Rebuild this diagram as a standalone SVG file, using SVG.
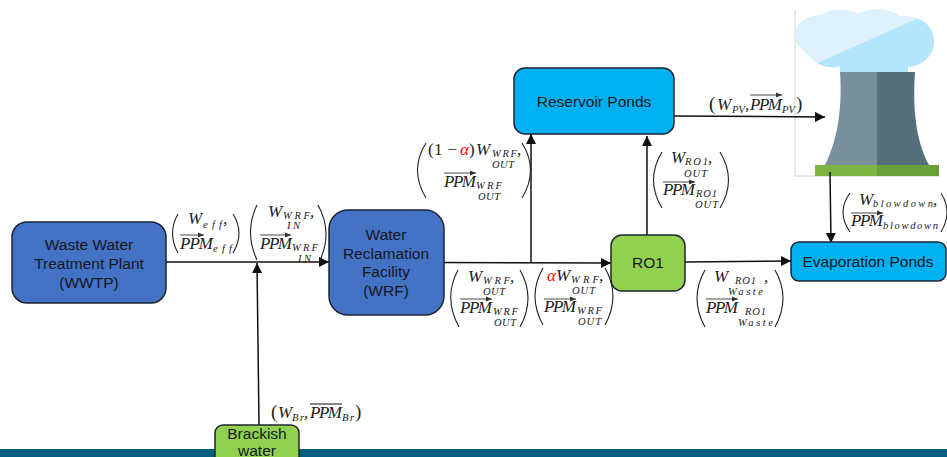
<svg xmlns="http://www.w3.org/2000/svg" width="947" height="457" viewBox="0 0 947 457">
<style>
.n{stroke:#1c2430;stroke-width:1.5}
.b{fill:#4472C4}.c{fill:#00B0F0}.g{fill:#92D050}
.t{font:15.5px "Liberation Sans",Arial,sans-serif;fill:#14181f;text-anchor:middle}
.e{fill:none;stroke:#111;stroke-width:1.5}
.k{fill:none;stroke:#222;stroke-width:1.1}
.v{fill:none;stroke:#333;stroke-width:.9}
.m{font:italic 17px "Liberation Serif",serif;fill:#222}
.s{font:italic 10.5px "Liberation Serif",serif;fill:#222}
.u{font:17px "Liberation Serif",serif;fill:#222}
.p{font-size:19px}
.r{fill:#f00}
</style>
<defs>
<marker id="a" markerUnits="userSpaceOnUse" markerWidth="12" markerHeight="12" refX="10" refY="5" orient="auto"><path d="M0 0L10 5L0 10z" fill="#111"/></marker>
<marker id="o" markerUnits="userSpaceOnUse" markerWidth="7" markerHeight="6" refX="6" refY="3" orient="auto"><path d="M0 .5L6 3L0 5.500z" fill="#333"/></marker>
<clipPath id="cl"><path d="M795 36C795 24 806 15 822 15C830 8 848 8 858 14C870 7 890 8 900 16C920 15 934 25 934 41C934 56 922 66 908 67L908 72L840 72L840 66C835 68 826 68 817 63C812 58 805 54 803 50C798 46 795 42 795 36Z"/></clipPath>
</defs>
<rect x="0" y="449" width="947" height="8" fill="#005F7C"/>
<g id="tower">
<path d="M795 10V176H940" fill="none" stroke="#d0d0d0"/>
<path d="M795 36C795 24 806 15 822 15C830 8 848 8 858 14C870 7 890 8 900 16C920 15 934 25 934 41C934 56 922 66 908 67L908 72L840 72L840 66C835 68 826 68 817 63C812 58 805 54 803 50C798 46 795 42 795 36Z" fill="#DDF1FC"/>
<path d="M815 64L921 17L940 17V80H815Z" fill="#B3E5FC" clip-path="url(#cl)"/>
<path d="M840 72H877V165H825C835 145 843 115 840 72Z" fill="#78909C"/>
<path d="M877 72H915C912 115 918 145 929 165H877Z" fill="#546E7A"/>
<rect x="815" y="165" width="62" height="11" fill="#7CB342"/>
<rect x="877" y="165" width="62" height="11" fill="#689F38"/>
</g>
<g id="connectors">
<path class="e" marker-end="url(#a)" d="M166 262H329"/>
<path class="e" marker-end="url(#a)" d="M259 425L257 263"/>
<path class="e" marker-end="url(#a)" d="M444 262.500L611 263"/>
<path class="e" marker-end="url(#a)" d="M531 263V134"/>
<path class="e" marker-end="url(#a)" d="M647 235V136"/>
<path class="e" marker-end="url(#a)" d="M674 116L825 117"/>
<path class="e" marker-end="url(#a)" d="M685 262L791 261"/>
<path class="e" marker-end="url(#a)" d="M830 172L831 243"/>
</g>
<g id="wwtp"><rect class="n b" x="12" y="222" width="154" height="81" rx="15"/>
<text class="t" x="89" y="250">Waste Water</text><text class="t" x="89" y="269">Treatment Plant</text><text class="t" x="89" y="288">(WWTP)</text></g>
<g id="wrf"><rect class="n b" x="329" y="210" width="115" height="105" rx="19"/>
<text class="t" x="386" y="240">Water</text><text class="t" x="386" y="259">Reclamation</text><text class="t" x="386" y="277">Facility</text><text class="t" x="386" y="296">(WRF)</text></g>
<g id="reservoir"><rect class="n c" x="514" y="68" width="160" height="66" rx="11"/>
<text class="t" x="594" y="107">Reservoir Ponds</text></g>
<g id="ro1"><rect class="n g" x="611" y="235" width="74" height="56" rx="11"/>
<text class="t" x="648" y="268">RO1</text></g>
<g id="evaporation"><rect class="n c" x="791" y="242" width="155" height="39" rx="8"/>
<text class="t" x="868" y="267">Evaporation Ponds</text></g>
<g id="brackish"><rect class="n g" x="215" y="425" width="84" height="40" rx="8"/>
<text class="t" x="257" y="439">Brackish</text><text class="t" x="257" y="456">water</text></g>
<g id="labels">
<g id="l-eff">
<path class="k" d="M178 214Q167 233 178 253M233 214Q245 233 233 253"/>
<text class="m" x="188" y="224">W</text><text class="s" x="203" y="228" textLength="19">eff</text><text class="m" x="223" y="224">,</text>
<path class="v" marker-end="url(#o)" d="M180 235H204"/>
<text class="m" x="180" y="249" textLength="33">PPM</text><text class="s" x="213" y="252" textLength="19">eff</text>
</g>
<g id="l-wrf-in">
<path class="k" d="M257 205Q244 232 257 260M318 205Q333 232 320 260"/>
<text class="m" x="268" y="217">W</text><text class="s" x="283" y="219" textLength="27">WRF</text><text class="m" x="310" y="217">,</text><text class="s" x="287" y="229" textLength="13">IN</text>
<path class="v" marker-end="url(#o)" d="M260 235H291"/>
<text class="m" x="260" y="249" textLength="32">PPM</text><text class="s" x="292" y="251" textLength="26">WRF</text><text class="s" x="298" y="262" textLength="13">IN</text>
</g>
<g id="l-br">
<text class="u p" x="271" y="418">(</text>
<text class="m" x="278" y="418">W</text><text class="s" x="292" y="421" textLength="12">Br</text><text class="m" x="304" y="418">,</text>
<path class="k" d="M310 404H342"/>
<text class="m" x="310" y="418" textLength="32">PPM</text><text class="s" x="342" y="421" textLength="12">Br</text><text class="u p" x="355" y="418">)</text>
</g>
<g id="l-bypass">
<path class="k" d="M426 143Q409 170 426 198M522 143Q539 170 522 198"/>
<text class="u" x="428" y="155" textLength="29">(1 −</text><text class="m r" x="460" y="155">α</text><text class="u" x="469" y="155">)</text>
<text class="m" x="476" y="155">W</text><text class="s" x="492" y="157" textLength="25">WRF</text><text class="m" x="517" y="155">,</text><text class="s" x="492" y="168" textLength="22">OUT</text>
<path class="v" marker-end="url(#o)" d="M444 173H476"/>
<text class="m" x="444" y="187" textLength="32">PPM</text><text class="s" x="476" y="189" textLength="26">WRF</text><text class="s" x="478" y="200" textLength="22">OUT</text>
</g>
<g id="l-wrf-out">
<path class="k" d="M458 270Q443 298 459 327M520 270Q536 298 520 327"/>
<text class="m" x="468" y="282">W</text><text class="s" x="483" y="284" textLength="27">WRF</text><text class="m" x="510" y="282">,</text><text class="s" x="483" y="295" textLength="22">OUT</text>
<path class="v" marker-end="url(#o)" d="M460 299H492"/>
<text class="m" x="460" y="313" textLength="32">PPM</text><text class="s" x="493" y="315" textLength="25">WRF</text><text class="s" x="494" y="326" textLength="22">OUT</text>
</g>
<g id="l-alpha">
<path class="k" d="M543 268Q527 296 543 325M605 268Q621 296 605 325"/>
<text class="m r" x="547" y="281">α</text><text class="m" x="556" y="281">W</text><text class="s" x="571" y="283" textLength="28">WRF</text><text class="m" x="599" y="281">,</text><text class="s" x="572" y="294" textLength="23">OUT</text>
<path class="v" marker-end="url(#o)" d="M544 299H576"/>
<text class="m" x="544" y="312" textLength="32">PPM</text><text class="s" x="577" y="314" textLength="25">WRF</text><text class="s" x="578" y="325" textLength="23">OUT</text>
</g>
<g id="l-pv">
<text class="u p" x="709" y="110">(</text>
<text class="m" x="717" y="110">W</text><text class="s" x="732" y="113" textLength="13">PV</text><text class="m" x="745" y="110">,</text>
<path class="v" marker-end="url(#o)" d="M750 95H782"/>
<text class="m" x="750" y="110" textLength="32">PPM</text><text class="s" x="782" y="113" textLength="13">PV</text><text class="u p" x="796" y="110">)</text>
</g>
<g id="l-ro1-out">
<path class="k" d="M662 152Q645 180 662 208M720 152Q737 180 720 208"/>
<text class="m" x="671" y="163">W</text><text class="s" x="685" y="165" textLength="23">RO1</text><text class="m" x="708" y="163">,</text><text class="s" x="684" y="177" textLength="23">OUT</text>
<path class="v" marker-end="url(#o)" d="M663 182H695"/>
<text class="m" x="663" y="195" textLength="32">PPM</text><text class="s" x="696" y="197" textLength="21">RO1</text><text class="s" x="695" y="208" textLength="23">OUT</text>
</g>
<g id="l-blowdown">
<path class="k" d="M850 193Q836 212 850 232M941 193Q953 212 941 232"/>
<text class="m" x="859" y="205">W</text><text class="s" x="873" y="207" textLength="60">blowdown</text><text class="m" x="933" y="205">,</text>
<path class="v" marker-end="url(#o)" d="M851 213H883"/>
<text class="m" x="851" y="226" textLength="32">PPM</text><text class="s" x="883" y="229" textLength="55">blowdown</text>
</g>
<g id="l-waste">
<path class="k" d="M705 270Q689 298 705 327M775 270Q791 298 775 327"/>
<text class="m" x="714" y="282">W</text><text class="s" x="735" y="284" textLength="21">RO1</text><text class="m" x="764" y="282">,</text><text class="s" x="728" y="295" textLength="35">Waste</text>
<path class="v" marker-end="url(#o)" d="M706 299H738"/>
<text class="m" x="706" y="313" textLength="32">PPM</text><text class="s" x="745" y="315" textLength="21">RO1</text><text class="s" x="738" y="326" textLength="35">Waste</text>
</g>
</g>
</svg>
